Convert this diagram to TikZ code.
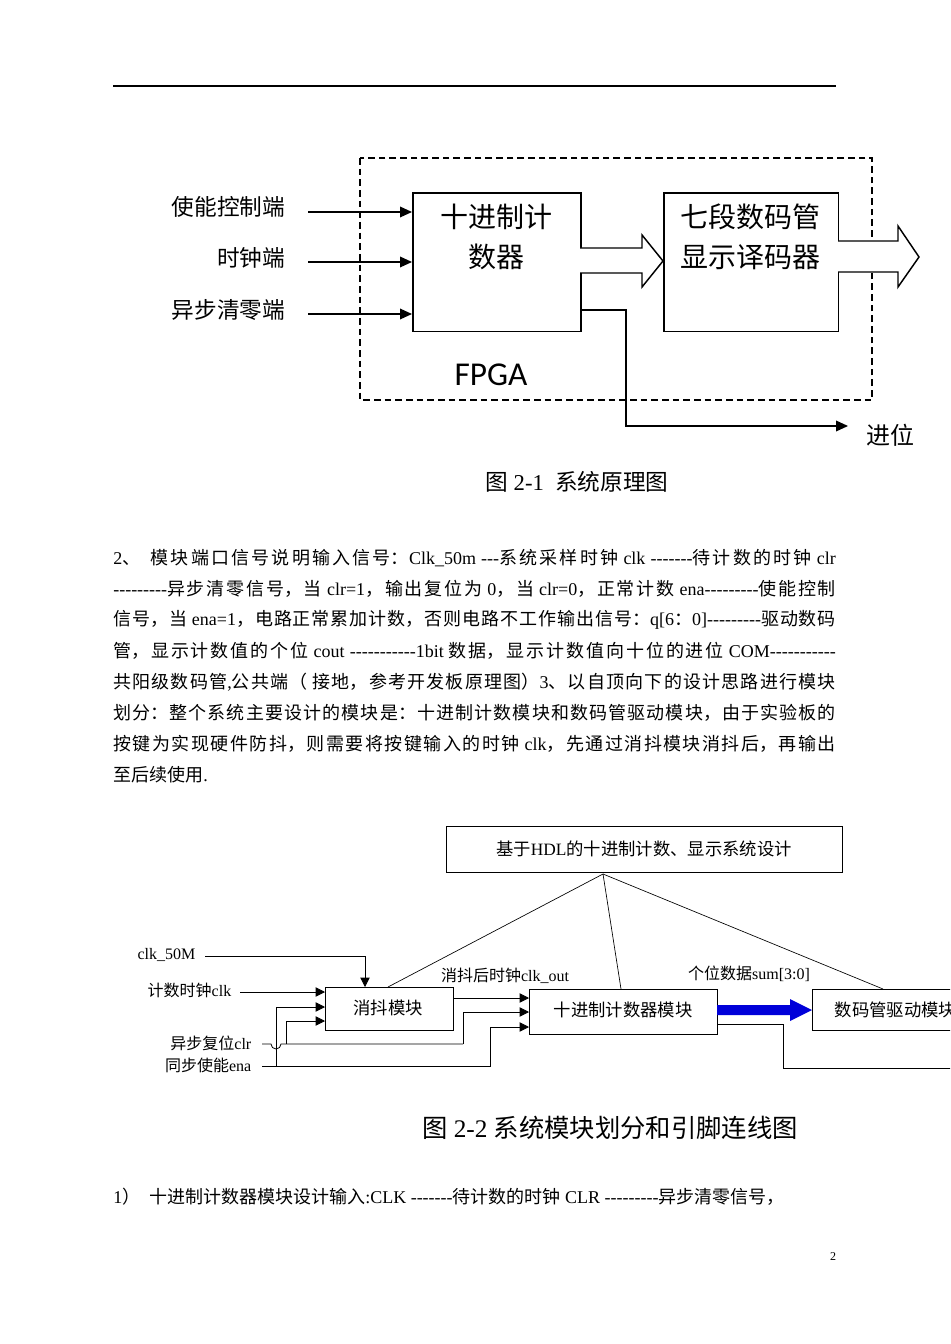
\documentclass[tikz,border=0pt]{standalone}
\usepackage{fontspec}
\setmainfont{Liberation Serif}[Ligatures=TeXOff]
\newfontfamily\cjk{Noto Sans CJK SC}
\newfontfamily\sansf{Carlito}
\newXeTeXintercharclass\cjkcls
\count255="3000
\loop\XeTeXcharclass\count255=\cjkcls\ifnum\count255<"9FFF\advance\count255 by 1\repeat
\count255="FF00
\loop\XeTeXcharclass\count255=\cjkcls\ifnum\count255<"FFEF\advance\count255 by 1\repeat
\XeTeXinterchartoks 0 \cjkcls={\begingroup\cjk}
\XeTeXinterchartoks 4095 \cjkcls={\begingroup\cjk}
\XeTeXinterchartoks \cjkcls 0={\endgroup}
\XeTeXinterchartoks \cjkcls 4095={\endgroup}
\XeTeXinterchartokenstate=1
\usetikzlibrary{arrows.meta}
\newcommand\pxs[1]{\fontsize{#1}{#1}\selectfont}
\tikzset{
 box/.style={draw,line width=1.2pt,inner sep=0pt},
 sbox/.style={draw,line width=0.6pt,inner sep=0pt},
 arr/.style={line width=1pt,-{Triangle[length=9pt,width=8pt]}},
 sarr/.style={line width=0.6pt,-{Triangle[length=7pt,width=7pt]}},
 para/.style={anchor=west,inner sep=0pt,font=\pxs{13.5pt}},
}
\newcommand\jl[1]{\parbox{542pt}{\XeTeXlinebreaklocale "zh"\XeTeXlinebreakskip=0pt plus 3pt\spaceskip=0.25em plus 1pt\parfillskip=0pt\parindent=0pt\relax #1}}
\begin{document}
\begin{tikzpicture}[x=0.75pt,y=-0.75pt]
\useasboundingbox (0,0) rectangle (950,1344);
\clip (0,0) rectangle (950,1344);
\fill[white] (0,0) rectangle (950,1344);
\draw[line width=0.8pt] (113,86) -- (836,86);
% diagram 1
\draw[dashed,line width=1.1pt,dash pattern=on 5pt off 3pt] (360,158) rectangle (872,400);
\node[box,minimum width=126pt,minimum height=104pt,anchor=north west] (cnt) at (412,192) {};
\node[box,minimum width=131pt,minimum height=104pt,anchor=north west] (dec) at (663,192) {};
\node (t1) at (496,217) {\pxs{21pt}十进制计};
\node (t2) at (496,257) {\pxs{21pt}数器};
\node (t3) at (750,217) {\pxs{21pt}七段数码管};
\node (t4) at (750,257) {\pxs{21pt}显示译码器};
\node[anchor=east] (i1) at (290,207) {\pxs{17pt}使能控制端};
\node[anchor=east] (i2) at (290,258) {\pxs{17pt}时钟端};
\node[anchor=east] (i3) at (290,310) {\pxs{17pt}异步清零端};
\coordinate (s1) at (308,212);\coordinate (s2) at (308,262);\coordinate (s3) at (308,314);
\draw[arr] (s1) -- (s1 -| cnt.west);
\draw[arr] (s2) -- (s2 -| cnt.west);
\draw[arr] (s3) -- (s3 -| cnt.west);
\draw[line width=1.1pt,fill=white] (580,248) -- (642,248) -- (642,235) -- (663,261) -- (642,287) -- (642,273) -- (580,273);
\draw[line width=1.1pt,fill=white] (838,241) -- (898,241) -- (898,226) -- (919,257) -- (898,287) -- (898,272) -- (838,272);
\coordinate (co) at (580,310);
\node[anchor=west] (jw) at (862,435) {\pxs{18pt}进位};
\draw[arr] (co) -- (626,310) -- (626,426) -- (848,426);
\node (fpga) at (491,375) {\sansf\pxs{25pt}FPGA};
\node (c1) at (577,482) {\pxs{17pt}图 2-1\ \ 系统原理图};
% paragraph
\node[para] (p1) at (113,558) {\jl{2、\ \ 模块端口信号说明输入信号：Clk\_50m ---系统采样时钟 clk -------待计数的时钟 clr}};
\node[para] (p2) at (113,589) {\jl{---------异步清零信号，当 clr=1，输出复位为 0，当 clr=0，正常计数 ena---------使能控制}};
\node[para] (p3) at (113,620) {\jl{信号，当 ena=1，电路正常累加计数，否则电路不工作输出信号：q[6：0]---------驱动数码}};
\node[para] (p4) at (113,651) {\jl{管，显示计数值的个位 cout -----------1bit 数据，显示计数值向十位的进位 COM-----------}};
\node[para] (p5) at (113,682) {\jl{共阳级数码管,公共端（ 接地，参考开发板原理图）3、以自顶向下的设计思路进行模块}};
\node[para] (p6) at (113,713) {\jl{划分：整个系统主要设计的模块是：十进制计数模块和数码管驱动模块，由于实验板的}};
\node[para] (p7) at (113,744) {\jl{按键为实现硬件防抖，则需要将按键输入的时钟 clk，先通过消抖模块消抖后，再输出}};
\node[para] (p8) at (113,775) {至后续使用.};
% diagram 2
\node[sbox,minimum width=297pt,minimum height=34.5pt,anchor=north west] (top) at (446,826) {};
\node (tt) at (644,849) {\pxs{13pt}基于HDL的十进制计数、显示系统设计};
\node[sbox,minimum width=96pt,minimum height=32pt,anchor=north west] (xd) at (325,987) {};
\node (xdt) at (388,1008) {\pxs{13pt}消抖模块};
\node[sbox,minimum width=141pt,minimum height=33.5pt,anchor=north west] (jc) at (529,989) {};
\node (jct) at (623,1010) {\pxs{13pt}十进制计数器模块};
\node[sbox,minimum width=120pt,minimum height=31pt,anchor=north west] (dr) at (812,989) {};
\node[anchor=west] (drt) at (830,1010) {\pxs{13pt}数码管驱动模块};
\coordinate (ap) at (603,874);
\draw[line width=0.5pt] (ap) -- (388,987);
\draw[line width=0.5pt] (ap) -- (621,989);
\draw[line width=0.5pt] (ap) -- (883,989);
\node[anchor=east] (l50) at (200,955) {\pxs{12pt}clk\_50M};
\node[anchor=east] (lclk) at (236,990) {\pxs{12pt}计数时钟clk};
\node[anchor=east] (lclr) at (256,1043) {\pxs{12pt}异步复位clr};
\node[anchor=east] (lena) at (256,1065) {\pxs{12pt}同步使能ena};
\draw[sarr] (205,956) -- (365,956) -- (365,987);
\draw[sarr] (240,992) -- (325,992);
\draw[line width=0.6pt] (262,1044) -- (271,1044) arc (180:0:5) -- (463,1044);
\draw[sarr] (463,1044) -- (463,1012) -- (529,1012);
\draw[sarr] (286,1044) -- (286,1021) -- (325,1021);
\draw[sarr] (262,1066) -- (276,1066) -- (276,1007) -- (325,1007);
\draw[sarr] (276,1066) -- (490,1066) -- (490,1027) -- (529,1027);
\draw[sarr] (453,998) -- (529,998);
\node (lco) at (505,976) {\pxs{12pt}消抖后时钟clk\_out};
\node (lsum) at (749,974) {\pxs{12pt}个位数据sum[3:0]};
\fill[blue!85!black] (717,1005) -- (790,1005) -- (790,999) -- (812,1010) -- (790,1021) -- (790,1015) -- (717,1015) -- cycle;
\draw[line width=0.6pt] (717,1024) -- (783,1024) -- (783,1068) -- (960,1068);
\node (c2) at (610,1128) {\pxs{19pt}图 2-2\ 系统模块划分和引脚连线图};
\node[para] (p9) at (113,1197) {1）\ \ 十进制计数器模块设计输入:CLK -------待计数的时钟 CLR ---------异步清零信号，};
\node (pg) at (833,1257) {\pxs{9pt}2};
\end{tikzpicture}
\end{document}
